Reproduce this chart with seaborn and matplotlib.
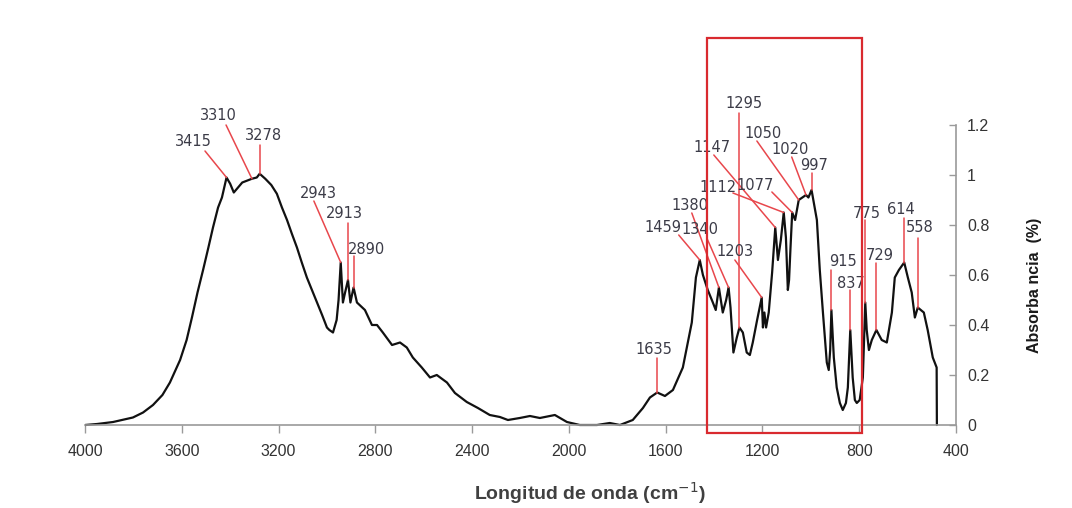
import numpy as np
import pandas as pd
import matplotlib
matplotlib.use("Agg")
import matplotlib.pyplot as plt
from matplotlib.patches import Rectangle
import seaborn as sns

# FTIR spectrum: wavenumber (cm-1) and absorbance
wavenumber = [
    4000, 3950, 3884, 3802, 3760, 3719, 3680, 3649, 3607, 3580, 3558, 3535,
    3512, 3490, 3471, 3450, 3434, 3415, 3400, 3385, 3350, 3310, 3290, 3278,
    3255, 3230, 3207, 3186, 3165, 3145, 3124, 3104, 3083, 3062, 3041, 3020,
    3000, 2990, 2975, 2960, 2952, 2943, 2934, 2925, 2913, 2903, 2890, 2876,
    2843, 2814, 2793, 2769, 2731, 2698, 2670, 2645, 2608, 2574, 2546, 2504,
    2471, 2422, 2376, 2327, 2285, 2252, 2203, 2161, 2120, 2058, 2008, 1955,
    1884, 1831, 1789, 1736, 1694, 1665, 1635, 1603, 1570, 1529, 1492, 1475,
    1459, 1446, 1426, 1405, 1393, 1380, 1364, 1350, 1340, 1332, 1320, 1306,
    1295, 1281, 1265, 1252, 1240, 1222, 1203, 1198, 1192, 1185, 1174, 1160,
    1147, 1136, 1124, 1112, 1103, 1095, 1090, 1084, 1077, 1065, 1050, 1035,
    1020, 1010, 997, 975, 963, 950, 934, 926, 920, 915, 905, 893,
    880, 868, 855, 847, 837, 827, 818, 810, 798, 785, 775, 769,
    760, 748, 729, 707, 686, 665, 653, 636, 614, 599, 583, 570,
    558, 533, 517, 496, 480, 479,
]
absorbance = [
    0.000, 0.004, 0.012, 0.030, 0.050, 0.080, 0.120, 0.170, 0.260, 0.340, 0.430, 0.530,
    0.620, 0.710, 0.790, 0.870, 0.910, 0.990, 0.965, 0.930, 0.970, 0.985, 0.990, 1.005,
    0.985, 0.960, 0.925, 0.870, 0.820, 0.765, 0.710, 0.650, 0.590, 0.540, 0.490, 0.440,
    0.390, 0.380, 0.370, 0.420, 0.500, 0.650, 0.490, 0.530, 0.580, 0.490, 0.550, 0.490,
    0.460, 0.400, 0.400, 0.370, 0.320, 0.330, 0.310, 0.270, 0.230, 0.190, 0.200, 0.170,
    0.128, 0.092, 0.068, 0.040, 0.032, 0.020, 0.028, 0.036, 0.028, 0.040, 0.012, 0.000,
    0.000, 0.008, 0.000, 0.020, 0.068, 0.110, 0.130, 0.116, 0.140, 0.230, 0.410, 0.590,
    0.660, 0.600, 0.540, 0.490, 0.460, 0.550, 0.450, 0.500, 0.550, 0.470, 0.290, 0.350,
    0.390, 0.370, 0.290, 0.280, 0.330, 0.420, 0.510, 0.390, 0.450, 0.390, 0.450, 0.610,
    0.790, 0.660, 0.740, 0.850, 0.750, 0.540, 0.580, 0.710, 0.850, 0.820, 0.900, 0.910,
    0.920, 0.910, 0.940, 0.820, 0.620, 0.450, 0.250, 0.220, 0.300, 0.460, 0.270, 0.150,
    0.088, 0.060, 0.088, 0.150, 0.380, 0.190, 0.100, 0.088, 0.100, 0.190, 0.490, 0.380,
    0.300, 0.340, 0.380, 0.340, 0.330, 0.450, 0.590, 0.620, 0.650, 0.590, 0.530, 0.430,
    0.470, 0.450, 0.380, 0.270, 0.230, 0.000,
]

# Assigned bands
peak_labels = [3415, 3310, 3278, 2943, 2913, 2890, 1635, 1459, 1380, 1340,
               1295, 1203, 1147, 1112, 1077, 1050, 1020, 997, 915, 837,
               775, 729, 614, 558]

# Label text placement (wavenumber, absorbance) and leader-line start points
text_pos = {
    3415: (3554, 1.132), 3310: (3450, 1.236), 3278: (3262, 1.156),
    2943: (3037, 0.928), 2913: (2926, 0.848), 2890: (2835, 0.704),
    1635: (1649, 0.304), 1459: (1612, 0.792), 1380: (1500, 0.880),
    1340: (1459, 0.780), 1295: (1277, 1.288), 1203: (1314, 0.692),
    1147: (1409, 1.108), 1112: (1384, 0.952), 1077: (1232, 0.960),
    1050: (1199, 1.168), 1020: (1087, 1.100), 997: (985, 1.040),
    915: (868, 0.652), 837: (835, 0.568), 775: (769, 0.848),
    729: (715, 0.680), 614: (628, 0.864), 558: (550, 0.788),
}
line_start = {
    3415: (3504, 1.096), 3310: (3417, 1.200), 3278: (3278, 1.120),
    2943: (3054, 0.896), 2913: (2913, 0.810), 2890: (2890, 0.675),
    1635: (1635, 0.270), 1459: (1546, 0.760), 1380: (1492, 0.848),
    1340: (1430, 0.748), 1295: (1295, 1.250), 1203: (1314, 0.660),
    1147: (1401, 1.080), 1112: (1322, 0.928), 1077: (1161, 0.932),
    1050: (1223, 1.136), 1020: (1079, 1.072), 997: (997, 1.010),
    915: (915, 0.620), 837: (837, 0.540), 775: (775, 0.820),
    729: (729, 0.648), 614: (614, 0.830), 558: (558, 0.750),
}

# Highlighted fingerprint window
box_range = (1430, 790)
box_abs = (-0.03, 1.55)

y_ticks = [0, 0.2, 0.4, 0.6, 0.8, 1, 1.2]
y_ticklabels = ["0", "0.2", "0.4", "0.6", "0.8", "1", "1.2"]
x_ticks = [4000, 3600, 3200, 2800, 2400, 2000, 1600, 1200, 800, 400]

sns.set_theme(style="white")
plt.rcParams["font.family"] = ["Liberation Sans", "DejaVu Sans"]

df = pd.DataFrame({"wn": wavenumber, "abs": absorbance})

fig = plt.figure(figsize=(10.72, 5.08), dpi=100)
ax = fig.add_axes([85 / 1072, 58 / 508, 871 / 1072, 450 / 508])

sns.lineplot(data=df, x="wn", y="abs", ax=ax, color="#111111", lw=1.6,
             sort=False, estimator=None)

ax.set_xlim(4000, 400)
ax.set_ylim(-0.1, 1.7)

red_line = "#e8474c"
text_col = "#3c3c48"
wn_arr = np.array(wavenumber)[::-1]
ab_arr = np.array(absorbance)[::-1]
for p in peak_labels:
    tx, ty = text_pos[p]
    sx, sy = line_start[p]
    ey = float(np.interp(p, wn_arr, ab_arr))
    ax.plot([sx, p], [sy, ey], color=red_line, lw=1.1, zorder=3)
    ax.text(tx, ty, str(p), ha="center", va="center", fontsize=10.5,
            color=text_col, family="DejaVu Sans", zorder=4)

ax.add_patch(Rectangle((box_range[0], box_abs[0]), box_range[1] - box_range[0],
                       box_abs[1] - box_abs[0], fill=False,
                       edgecolor="#d92a2f", lw=1.6, zorder=5, clip_on=False))

# Axes styling
for s in ["left", "top"]:
    ax.spines[s].set_visible(False)
ax.spines["bottom"].set_position(("data", 0))
ax.spines["bottom"].set_bounds(4000, 400)
ax.spines["right"].set_bounds(0, 1.2)
for s in ["bottom", "right"]:
    ax.spines[s].set_color("#9a9a9a")
    ax.spines[s].set_linewidth(1.2)

ax.yaxis.tick_right()
ax.set_yticks(y_ticks)
ax.set_yticklabels(y_ticklabels)
ax.set_xticks(x_ticks)
ax.set_xticklabels([str(t) for t in x_ticks])
ax.tick_params(axis="x", direction="out", length=6, width=1, color="#9a9a9a",
               labelsize=11.5, labelcolor="#333333", pad=8, bottom=True)
ax.tick_params(axis="y", direction="in", length=5, width=1, color="#9a9a9a",
               labelsize=11.5, labelcolor="#333333", pad=8, right=True, left=False)
ax.set_xlabel("")
ax.set_ylabel("")
ax.grid(False)

ax.text(1035 / 1072, (508 - 285) / 508, "Absorba ncia  (%)", transform=fig.transFigure,
        rotation=90, ha="center", va="center", fontsize=11.5, fontweight="bold",
        color="#1a1a1a")
fig.text(590 / 1072, 1 - 493 / 508, "Longitud de onda (cm$^{-1}$)", ha="center",
         va="center", fontsize=14, fontweight="bold", color="#404040")

fig.savefig("out.png", dpi=100, facecolor="white")
